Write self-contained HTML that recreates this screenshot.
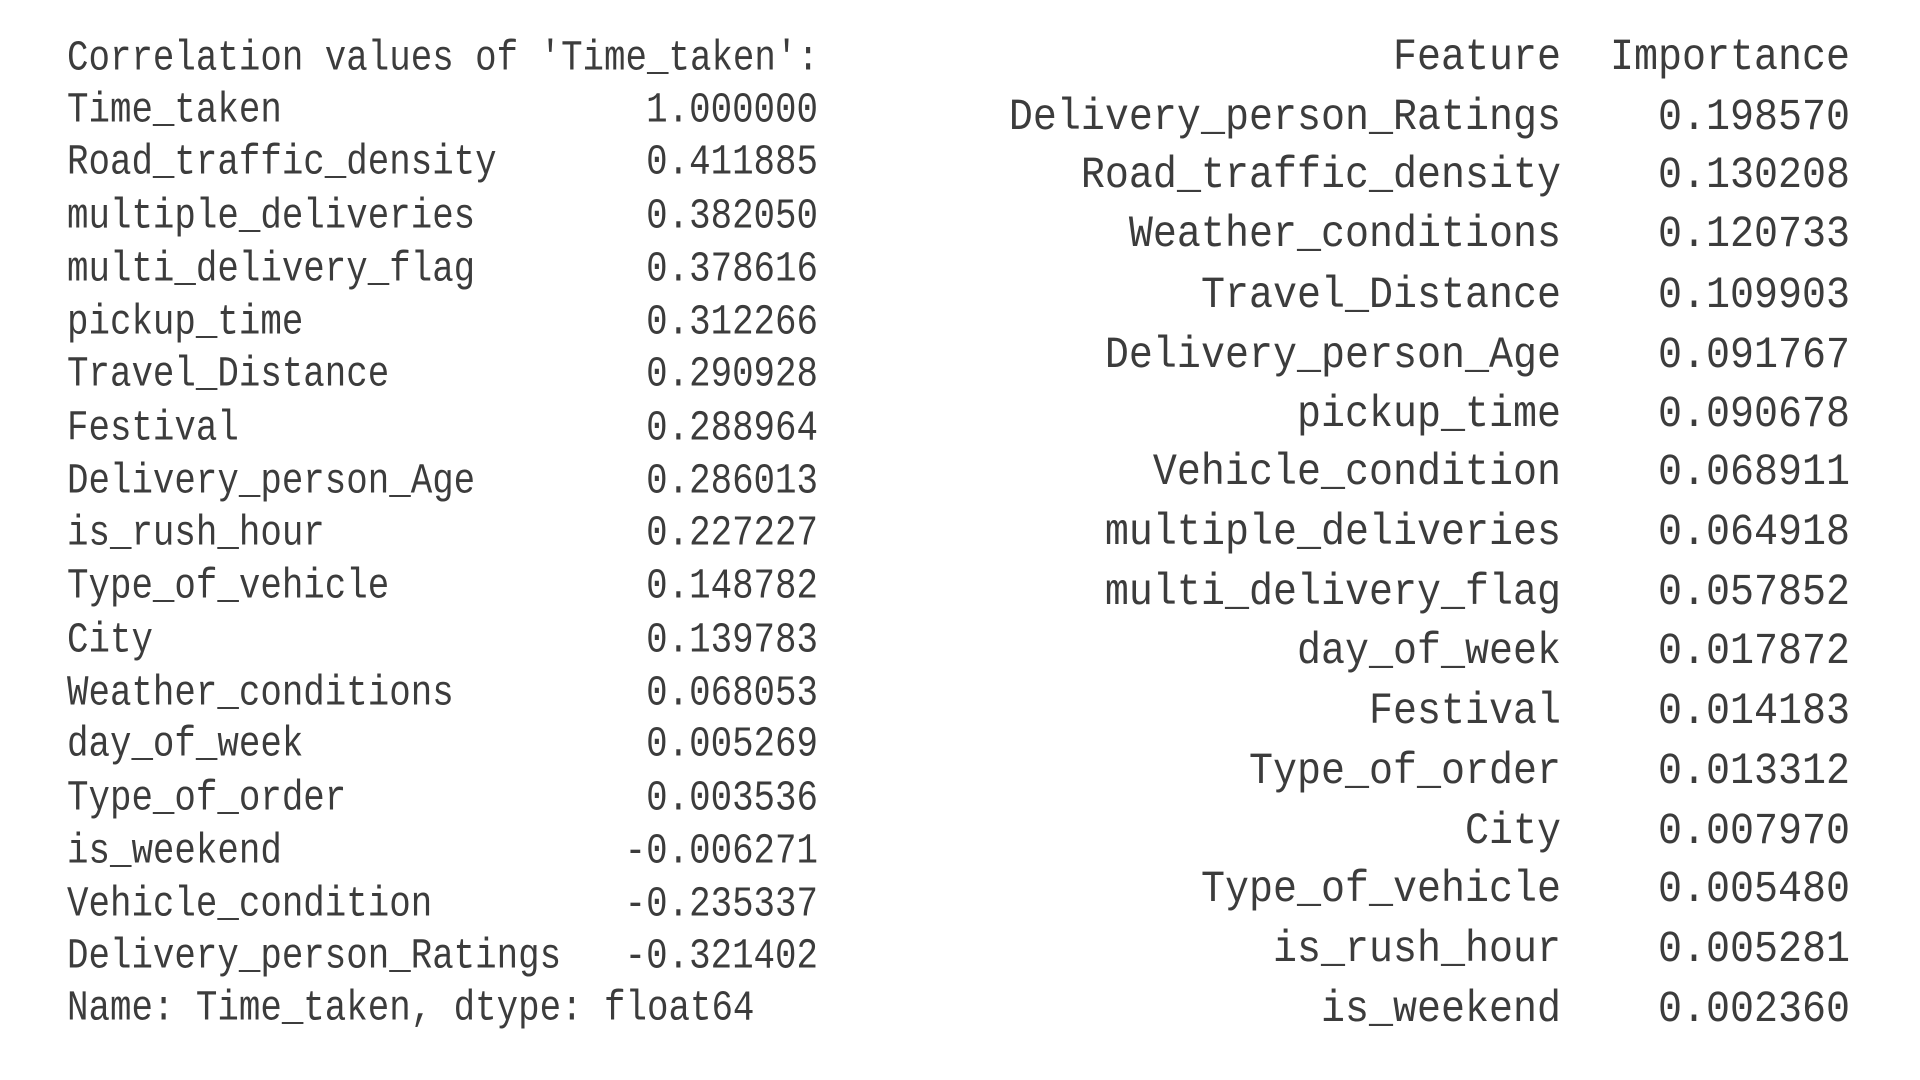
<!DOCTYPE html>
<html><head><meta charset="utf-8"><style>
html,body{margin:0;padding:0;background:#fff;width:1920px;height:1080px;overflow:hidden}
.r{position:absolute;height:50px;line-height:50px;white-space:pre;color:#3c3c3c;font-family:"Liberation Mono",monospace;margin-top:3px}
.l{font-size:35.8px;transform:scaleY(1.18)}
.R{font-size:40px;transform:scaleY(1.12)}
.ln{left:67px}
.lv{right:1102px;text-align:right}
.rn{right:359px;text-align:right}
.rv{right:70px;text-align:right}
</style></head><body>
<div class="r l ln" style="top:31px">Correlation values of 'Time_taken':</div>
<div class="r l ln" style="top:83px">Time_taken</div><div class="r l lv" style="top:83px">1.000000</div>
<div class="r l ln" style="top:135px">Road_traffic_density</div><div class="r l lv" style="top:135px">0.411885</div>
<div class="r l ln" style="top:189px">multiple_deliveries</div><div class="r l lv" style="top:189px">0.382050</div>
<div class="r l ln" style="top:242px">multi_delivery_flag</div><div class="r l lv" style="top:242px">0.378616</div>
<div class="r l ln" style="top:295px">pickup_time</div><div class="r l lv" style="top:295px">0.312266</div>
<div class="r l ln" style="top:347px">Travel_Distance</div><div class="r l lv" style="top:347px">0.290928</div>
<div class="r l ln" style="top:401px">Festival</div><div class="r l lv" style="top:401px">0.288964</div>
<div class="r l ln" style="top:454px">Delivery_person_Age</div><div class="r l lv" style="top:454px">0.286013</div>
<div class="r l ln" style="top:506px">is_rush_hour</div><div class="r l lv" style="top:506px">0.227227</div>
<div class="r l ln" style="top:559px">Type_of_vehicle</div><div class="r l lv" style="top:559px">0.148782</div>
<div class="r l ln" style="top:613px">City</div><div class="r l lv" style="top:613px">0.139783</div>
<div class="r l ln" style="top:666px">Weather_conditions</div><div class="r l lv" style="top:666px">0.068053</div>
<div class="r l ln" style="top:717px">day_of_week</div><div class="r l lv" style="top:717px">0.005269</div>
<div class="r l ln" style="top:771px">Type_of_order</div><div class="r l lv" style="top:771px">0.003536</div>
<div class="r l ln" style="top:824px">is_weekend</div><div class="r l lv" style="top:824px">-0.006271</div>
<div class="r l ln" style="top:877px">Vehicle_condition</div><div class="r l lv" style="top:877px">-0.235337</div>
<div class="r l ln" style="top:929px">Delivery_person_Ratings</div><div class="r l lv" style="top:929px">-0.321402</div>
<div class="r l ln" style="top:981px">Name: Time_taken, dtype: float64</div>

<div class="r R rn" style="top:31px">Feature</div><div class="r R rv" style="top:31px">Importance</div>
<div class="r R rn" style="top:91px">Delivery_person_Ratings</div><div class="r R rv" style="top:91px">0.198570</div>
<div class="r R rn" style="top:149px">Road_traffic_density</div><div class="r R rv" style="top:149px">0.130208</div>
<div class="r R rn" style="top:208px">Weather_conditions</div><div class="r R rv" style="top:208px">0.120733</div>
<div class="r R rn" style="top:269px">Travel_Distance</div><div class="r R rv" style="top:269px">0.109903</div>
<div class="r R rn" style="top:329px">Delivery_person_Age</div><div class="r R rv" style="top:329px">0.091767</div>
<div class="r R rn" style="top:388px">pickup_time</div><div class="r R rv" style="top:388px">0.090678</div>
<div class="r R rn" style="top:446px">Vehicle_condition</div><div class="r R rv" style="top:446px">0.068911</div>
<div class="r R rn" style="top:506px">multiple_deliveries</div><div class="r R rv" style="top:506px">0.064918</div>
<div class="r R rn" style="top:566px">multi_delivery_flag</div><div class="r R rv" style="top:566px">0.057852</div>
<div class="r R rn" style="top:625px">day_of_week</div><div class="r R rv" style="top:625px">0.017872</div>
<div class="r R rn" style="top:685px">Festival</div><div class="r R rv" style="top:685px">0.014183</div>
<div class="r R rn" style="top:745px">Type_of_order</div><div class="r R rv" style="top:745px">0.013312</div>
<div class="r R rn" style="top:805px">City</div><div class="r R rv" style="top:805px">0.007970</div>
<div class="r R rn" style="top:863px">Type_of_vehicle</div><div class="r R rv" style="top:863px">0.005480</div>
<div class="r R rn" style="top:923px">is_rush_hour</div><div class="r R rv" style="top:923px">0.005281</div>
<div class="r R rn" style="top:983px">is_weekend</div><div class="r R rv" style="top:983px">0.002360</div>
</body></html>
